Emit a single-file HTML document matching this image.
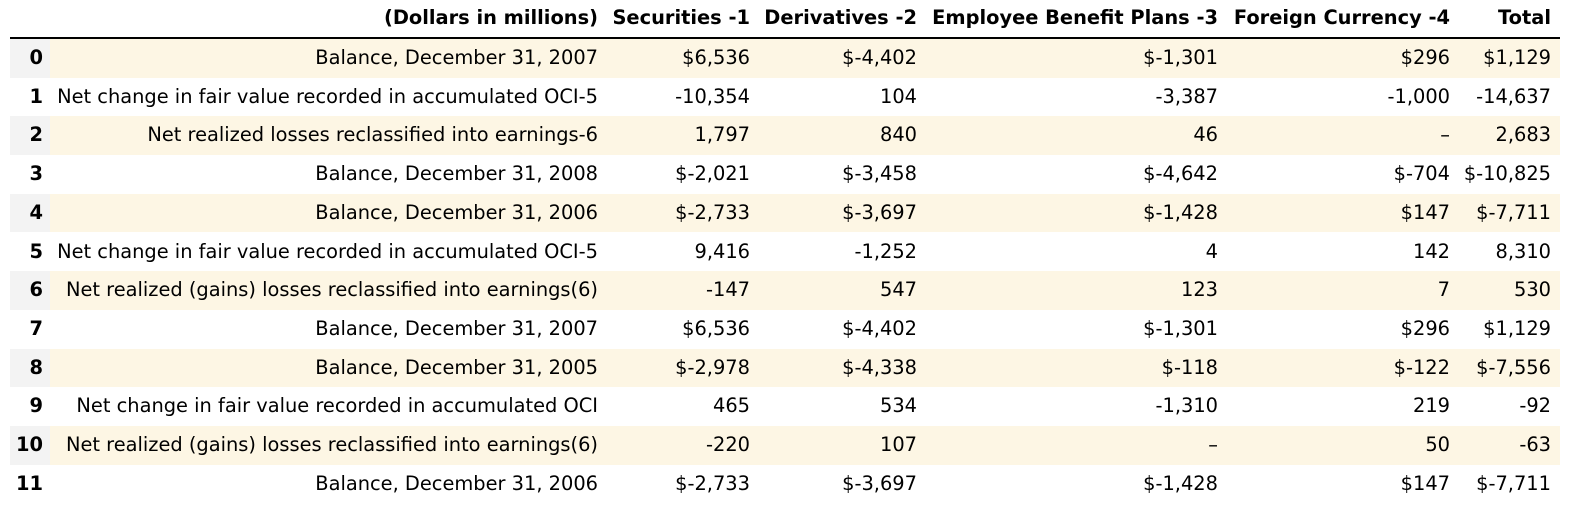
<!DOCTYPE html>
<html><head><meta charset="utf-8"><style>
html,body{margin:0;padding:0}
body{width:1578px;height:505px;background:#fff;font-family:"DejaVu Sans","Liberation Sans",sans-serif;font-size:19.4px;color:#000;position:relative;overflow:hidden}
.c{position:absolute;white-space:nowrap;text-align:right;line-height:38.6px}
.h{font-weight:bold;line-height:36px;top:0}
.bg{position:absolute;left:50px;width:1510px;height:38.6px;background:#fdf6e4}
.ix{position:absolute;left:10px;width:40px;height:38.6px;background:#f3f3f3}
.idx{font-weight:bold}
</style></head><body>
<div style="position:absolute;left:10px;top:37px;width:1550px;height:2px;background:#000"></div>
<div id="t"></div>
<script>
const headers=["(Dollars in millions)","Securities -1","Derivatives -2","Employee Benefit Plans -3","Foreign Currency -4","Total"];
const labels=["Balance, December 31, 2007","Net change in fair value recorded in accumulated OCI-5","Net realized losses reclassified into earnings-6","Balance, December 31, 2008","Balance, December 31, 2006","Net change in fair value recorded in accumulated OCI-5","Net realized (gains) losses reclassified into earnings(6)","Balance, December 31, 2007","Balance, December 31, 2005","Net change in fair value recorded in accumulated OCI","Net realized (gains) losses reclassified into earnings(6)","Balance, December 31, 2006"];
const securities=["$6,536","-10,354","1,797","$-2,021","$-2,733","9,416","-147","$6,536","$-2,978","465","-220","$-2,733"];
const derivatives=["$-4,402","104","840","$-3,458","$-3,697","-1,252","547","$-4,402","$-4,338","534","107","$-3,697"];
const benefits=["$-1,301","-3,387","46","$-4,642","$-1,428","4","123","$-1,301","$-118","-1,310","–","$-1,428"];
const currency=["$296","-1,000","–","$-704","$147","142","7","$296","$-122","219","50","$147"];
const totals=["$1,129","-14,637","2,683","$-10,825","$-7,711","8,310","530","$1,129","$-7,556","-92","-63","$-7,711"];
const rights=[598,750,917,1218,1450,1551];
const cols=[labels,securities,derivatives,benefits,currency,totals];
const colNames=["label","securities","derivatives","benefit-plans","foreign-currency","total"];
const t=document.getElementById('t');
const R=38.7,top0=39;
function cell(txt,right,top,cls){const d=document.createElement('div');d.className='c '+cls;d.textContent=txt;d.style.right=(1578-right)+'px';if(top!==null)d.style.top=top+'px';t.appendChild(d);return d;}
headers.forEach((h,i)=>{const d=cell(h,rights[i],null,'h');

});
labels.forEach((_,r)=>{const y=top0+r*R;
if(r%2===0){const b=document.createElement('div');b.className='bg';b.style.top=y+'px';


t.appendChild(b);const g=document.createElement('div');g.className='ix';g.style.top=y+'px';


t.appendChild(g);}
const ix=cell(String(r),43,y,'idx');


cols.forEach((c,i)=>{const d=cell(c[r],rights[i],y,'');

});
});
</script>
</body></html>
